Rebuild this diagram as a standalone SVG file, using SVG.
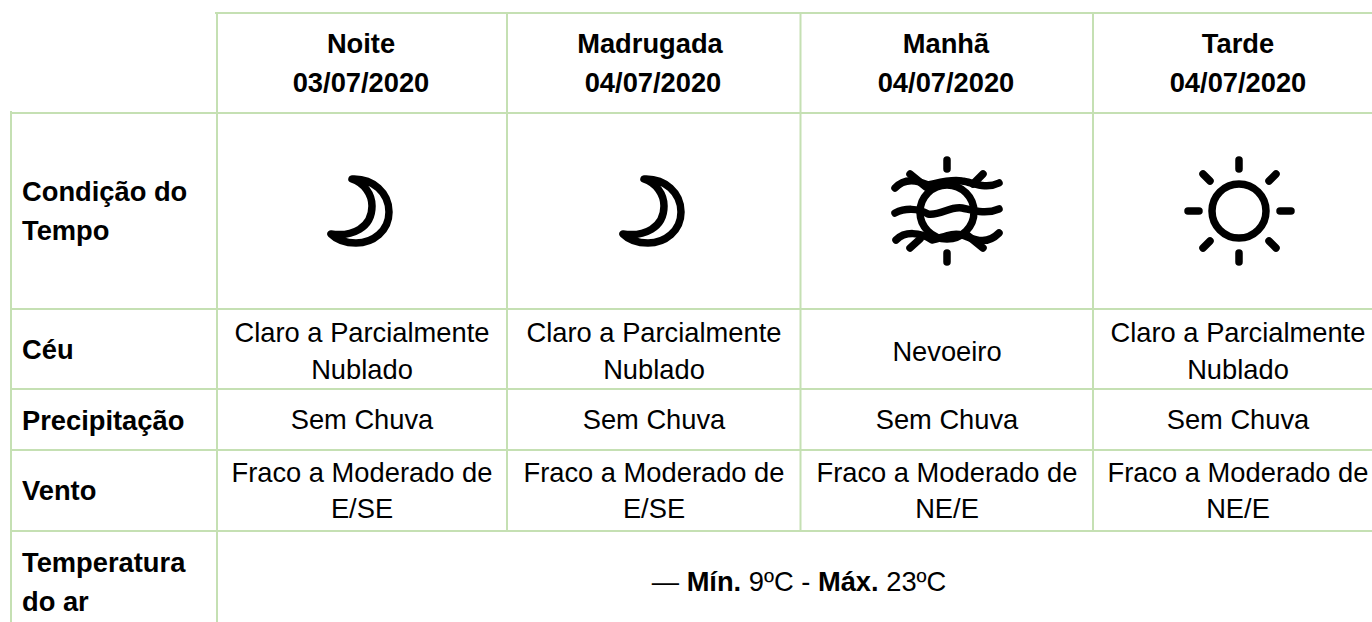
<svg xmlns="http://www.w3.org/2000/svg" width="1372" height="622" viewBox="0 0 1372 622">
<style>
text{font-family:"Liberation Sans",Arial,sans-serif;font-size:27.3px;fill:#000}
.b{font-weight:700}
.m{text-anchor:middle}
.g{stroke:#c5e0b3;stroke-width:2;fill:none}
.i{stroke:#000;stroke-width:7.5;fill:none;stroke-linecap:round;stroke-linejoin:round}
</style>
<defs>
<path id="moon" d="M352 179C373 178 389 193 389 212C389 231 373 243 356 243C345 243 337 240 331 234C352 237 372 228 372 206C372 194 364 183 352 179Z"/>
</defs>
<rect width="1372" height="622" fill="#fff"/>
<g id="grid" class="g">
<path d="M215 13H1372M10 113H1372M10 309H1372M10 389H1372M10 450H1372M10 531H1372"/>
<path d="M11 111V622M217 12V622M507 12V531M800.5 12V531M1093 12V531"/>
</g>
<g id="header">
<text class="b m" x="361" y="53">Noite</text><text class="b m" x="361" y="92">03/07/2020</text>
<text class="b m" x="650" y="53">Madrugada</text><text class="b m" x="653" y="92">04/07/2020</text>
<text class="b m" x="946" y="53">Manhã</text><text class="b m" x="946" y="92">04/07/2020</text>
<text class="b m" x="1238" y="53">Tarde</text><text class="b m" x="1238" y="92">04/07/2020</text>
</g>
<g id="row-labels">
<text class="b" x="22" y="201">Condição do</text><text class="b" x="22" y="240">Tempo</text>
<text class="b" x="22" y="359">Céu</text>
<text class="b" x="22" y="430">Precipitação</text>
<text class="b" x="22" y="500">Vento</text>
<text class="b" x="22" y="572">Temperatura</text><text class="b" x="22" y="611">do ar</text>
</g>
<g id="icon-noite"><use href="#moon" class="i"/></g>
<g id="icon-madrugada"><use href="#moon" class="i" x="292"/></g>
<g id="icon-manha" class="i">
<circle cx="947" cy="212" r="27"/>
<path d="M947 160V169M947 253V262M910 174L926 187M983 174L973 184M910 248L920 239M983 248L967 235"/>
<path d="M895 188C903 179 915 179 928 185C938 183 950 179 962 181C972 182 985 190 999 183"/>
<path d="M895 213C905 208 918 208 928 214C940 216 950 206 962 208C972 210 985 215 999 209"/>
<path d="M896 240C905 231 920 232 932 240C942 238 952 232 962 235C972 238 985 247 999 233"/>
</g>
<g id="icon-tarde" class="i">
<circle cx="1239" cy="211" r="27"/>
<path d="M1239 160V169M1239 253V262M1188 211H1199M1280 211H1291M1203 174L1210 181M1276 174L1269 181M1203 248L1210 241M1276 248L1269 241"/>
</g>
<g id="ceu">
<text class="m" x="362" y="342">Claro a Parcialmente</text><text class="m" x="362" y="379">Nublado</text>
<text class="m" x="654" y="342">Claro a Parcialmente</text><text class="m" x="654" y="379">Nublado</text>
<text class="m" x="947" y="361">Nevoeiro</text>
<text class="m" x="1238" y="342">Claro a Parcialmente</text><text class="m" x="1238" y="379">Nublado</text>
</g>
<g id="precipitacao">
<text class="m" x="362" y="429">Sem Chuva</text><text class="m" x="654" y="429">Sem Chuva</text><text class="m" x="947" y="429">Sem Chuva</text><text class="m" x="1238" y="429">Sem Chuva</text>
</g>
<g id="vento">
<text class="m" x="362" y="482">Fraco a Moderado de</text><text class="m" x="362" y="518">E/SE</text>
<text class="m" x="654" y="482">Fraco a Moderado de</text><text class="m" x="654" y="518">E/SE</text>
<text class="m" x="947" y="482">Fraco a Moderado de</text><text class="m" x="947" y="518">NE/E</text>
<text class="m" x="1238" y="482">Fraco a Moderado de</text><text class="m" x="1238" y="518">NE/E</text>
</g>
<g id="temperatura"><text class="m" x="799" y="591">— <tspan class="b">Mín.</tspan> 9ºC - <tspan class="b">Máx.</tspan> 23ºC</text></g>
</svg>
